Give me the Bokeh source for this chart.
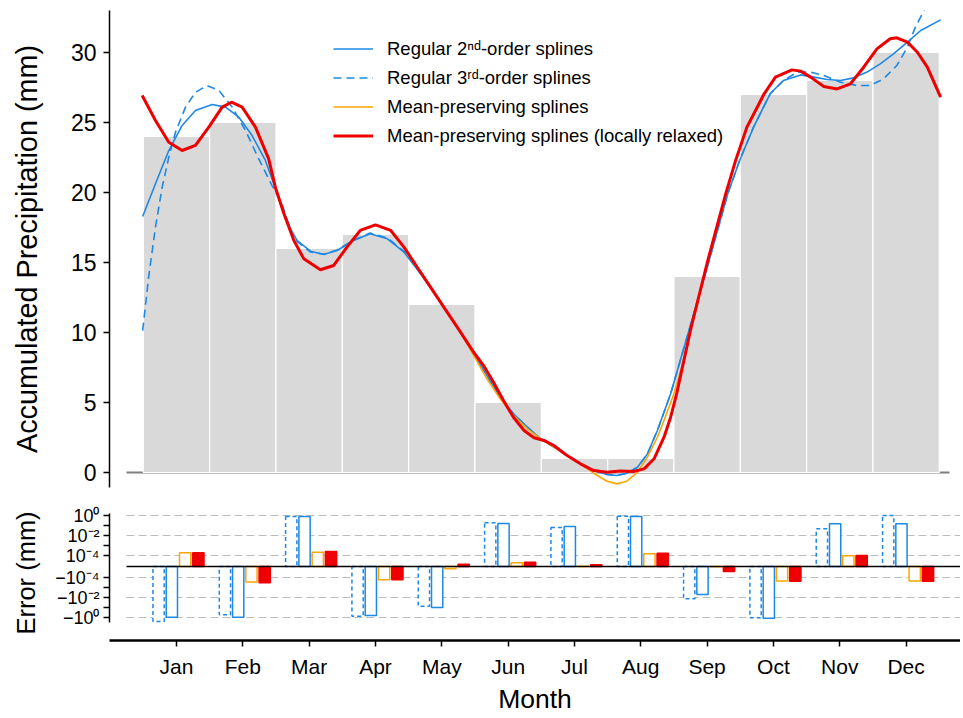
from bokeh.plotting import figure
from bokeh.models import (Range1d, FixedTicker, Legend, LegendItem, ColumnDataSource,
                          CustomJSTransform, Grid)
from bokeh.transform import transform, dodge
from bokeh.layouts import column
from bokeh.embed import file_html
from bokeh.resources import INLINE

# ---------------- data ----------------
months = ["Jan", "Feb", "Mar", "Apr", "May", "Jun", "Jul", "Aug", "Sep", "Oct", "Nov", "Dec"]
precip = [24, 25, 16, 17, 12, 5, 1, 1, 14, 27, 28, 30]

# Regular 2nd-order splines (month position, mm)
reg2_x = [0.49, 0.683, 0.884, 1.085, 1.286, 1.538, 1.739, 1.94, 2.14, 2.34, 2.47, 2.6, 2.72, 2.82,
          3.02, 3.22, 3.42, 3.67, 3.92, 4.18, 4.43, 4.68, 4.93, 5.23, 5.48, 5.68, 5.88, 6.08,
          6.29, 6.49, 6.69, 6.89, 7.09, 7.29, 7.49, 7.64, 7.79, 7.95, 8.1, 8.25, 8.45, 8.74,
          9.03, 9.31, 9.49, 9.70, 9.95, 10.15, 10.41, 10.61, 10.81, 11.01, 11.21, 11.41, 11.61,
          11.81, 12.02, 12.22, 12.52]
reg2_y = [18.29, 20.62, 23.0, 24.79, 25.86, 26.29, 26.1, 25.38, 24.07, 22.29, 20.6, 18.8, 17.4,
          16.57, 15.81, 15.57, 15.86, 16.57, 17.05, 16.69, 15.74, 14.19, 12.52, 10.38, 8.48,
          6.93, 5.38, 4.19, 3.24, 2.41, 1.81, 1.21, 0.67, 0.14, -0.14, -0.21, -0.05, 0.38,
          1.33, 3.0, 5.62, 10.38, 15.14, 19.9, 22.29, 24.67, 27.05, 28.0, 28.4, 28.24, 28.07,
          28.0, 28.19, 28.6, 29.19, 29.9, 30.74, 31.57, 32.33]

# Regular 3rd-order splines
reg3_x = [0.49, 0.58, 0.683, 0.784, 0.884, 0.985, 1.136, 1.286, 1.463, 1.64, 1.84, 2.04, 2.24,
          2.44, 2.59, 2.72, 2.82, 3.02, 3.22, 3.42, 3.67, 3.92, 4.18, 4.43, 4.68, 4.93, 5.23,
          5.48, 5.68, 5.88, 6.08, 6.29, 6.49, 6.69, 6.89, 7.09, 7.29, 7.49, 7.64, 7.79, 7.95,
          8.1, 8.25, 8.45, 8.74, 9.03, 9.31, 9.49, 9.70, 9.95, 10.15, 10.36, 10.56, 10.76,
          11.01, 11.26, 11.46, 11.66, 11.86, 12.02, 12.14, 12.27, 12.31]
reg3_y = [10.14, 13.95, 17.52, 20.38, 22.52, 24.3, 26.1, 27.16, 27.64, 27.29, 26.1, 24.43, 22.4,
          20.5, 19.19, 17.3, 16.5, 15.75, 15.6, 15.9, 16.6, 17.1, 16.75, 15.8, 14.2, 12.5, 10.4,
          8.48, 6.93, 5.38, 4.19, 3.24, 2.41, 1.81, 1.21, 0.67, 0.14, -0.14, -0.21, -0.05, 0.38,
          1.33, 3.0, 5.62, 10.38, 15.14, 19.9, 22.29, 24.67, 27.05, 28.0, 28.6, 28.6, 28.36,
          27.88, 27.64, 27.64, 28.12, 29.07, 30.38, 31.81, 33.0, 33.6]

# Mean-preserving splines
mp_x = [0.483, 0.683, 0.884, 1.085, 1.286, 1.487, 1.689, 1.83, 1.99, 2.19, 2.39, 2.49, 2.62,
        2.77, 2.92, 3.17, 3.37, 3.57, 3.77, 4.0, 4.23, 4.43, 4.63, 4.83, 5.03, 5.26, 5.48,
        5.68, 5.88, 6.08, 6.29, 6.49, 6.69, 6.89, 7.09, 7.29, 7.49, 7.64, 7.79, 7.95, 8.1,
        8.25, 8.34, 8.5, 8.62, 8.76, 9.01, 9.28, 9.43, 9.60, 9.86, 10.03, 10.28, 10.41, 10.56,
        10.76, 10.96, 11.16, 11.36, 11.56, 11.76, 11.86, 12.02, 12.17, 12.32, 12.52]
mp_y = [26.93, 25.14, 23.59, 23.0, 23.36, 24.67, 26.1, 26.45, 26.1, 24.67, 22.4, 20.38, 18.48,
        16.57, 15.26, 14.48, 14.79, 16.1, 17.29, 17.69, 17.29, 16.1, 14.66, 13.24, 11.81,
        10.19, 8.36, 6.69, 5.26, 4.07, 3.12, 2.41, 1.81, 1.21, 0.62, -0.05, -0.62, -0.81,
        -0.62, 0.02, 1.1, 2.52, 3.6, 5.62, 7.6, 10.38, 15.14, 19.9, 22.29, 24.67, 27.05, 28.24,
        28.76, 28.67, 28.24, 27.57, 27.4, 27.76, 28.95, 30.26, 30.98, 31.05, 30.74, 30.02,
        28.95, 26.81]

# Mean-preserving splines (locally relaxed)
mpr_x = [0.483, 0.683, 0.884, 1.085, 1.286, 1.487, 1.689, 1.83, 1.99, 2.19, 2.39, 2.49, 2.62,
         2.77, 2.92, 3.17, 3.37, 3.57, 3.77, 4.0, 4.23, 4.43, 4.63, 4.83, 5.03, 5.26, 5.48,
         5.63, 5.78, 5.93, 6.08, 6.24, 6.39, 6.54, 6.69, 6.89, 7.09, 7.29, 7.49, 7.69, 7.89,
         8.05, 8.2, 8.35, 8.45, 8.54, 8.76, 9.01, 9.28, 9.43, 9.60, 9.86, 10.03, 10.28, 10.41,
         10.56, 10.76, 10.96, 11.16, 11.36, 11.56, 11.76, 11.86, 12.02, 12.17, 12.32, 12.52]
mpr_y = [26.93, 25.14, 23.59, 23.0, 23.36, 24.67, 26.1, 26.45, 26.1, 24.67, 22.4, 20.38, 18.48,
         16.57, 15.26, 14.48, 14.79, 16.1, 17.29, 17.69, 17.29, 16.1, 14.66, 13.24, 11.81,
         10.19, 8.59, 7.64, 6.45, 5.14, 3.95, 3.0, 2.48, 2.29, 1.93, 1.21, 0.62, 0.14, 0.02,
         0.1, 0.07, 0.26, 0.98, 2.52, 3.95, 5.62, 10.38, 15.14, 19.9, 22.29, 24.67, 27.05,
         28.24, 28.76, 28.67, 28.24, 27.57, 27.4, 27.76, 28.95, 30.26, 30.98, 31.05, 30.74,
         30.02, 28.95, 26.81]

# Monthly errors (mm)
err_reg3 = [-2.5, -0.54, 0.79, -0.74, -0.074, 0.19, 0.063, 0.85, -0.0135, -1.07, 0.047, 1.0]
err_reg2 = [-0.93, -0.93, 0.79, -0.63, -0.1, 0.16, 0.079, 0.79, -0.005, -1.17, 0.15, 0.15]
err_mp = [1.9e-4, -2.9e-4, 2.1e-4, -1.7e-4, -2e-5, 3.4e-5, 3e-6, 1.5e-4, -3e-6, -2.3e-4, 0.97e-4, -2.3e-4]
err_mpr = [1.9e-4, -3.4e-4, 2.5e-4, -1.7e-4, 2e-5, 3.9e-5, 1.5e-5, 1.7e-4, -4.5e-5, -2.4e-4, 1.0e-4, -2.4e-4]

err_ticks = [-5.1, -3.1, -1.1, 1.1, 3.1, 5.1]
err_minor = [-4.1, -2.1, 2.1, 4.1]
err_labels = ["\u221210\u2070", "\u221210\u207b\u00b2", "\u221210\u207b\u2074",
              "10\u207b\u2074", "10\u207b\u00b2", "10\u2070"]

# ---------------- style ----------------
FONT = "Liberation Sans"
BLUE = "#1E88E5"
ORANGE = "#FFA500"
RED = "#EE0000"
GRAY = "#D9D9D9"

pos = list(range(1, len(months) + 1))
xr = Range1d(-0.01, 12.82)

# ---------------- top panel ----------------
p1 = figure(width=960, height=505, x_range=xr, y_range=Range1d(-1.07, 33.0),
            output_backend="svg", toolbar_location=None, x_axis_location=None,
            min_border_left=109, min_border_right=0, min_border_top=10, min_border_bottom=18)
p1.outline_line_color = None
p1.xgrid.visible = False
p1.ygrid.visible = False

base = Grid(dimension=1, ticker=FixedTicker(ticks=[0]), grid_line_color="#808080",
            grid_line_width=2, cross_bounds=(0.25, 12.66))
p1.add_layout(base, "center")

src_bar = ColumnDataSource(dict(x=pos, precip=precip))
p1.vbar(x="x", top="precip", bottom=0, width=1.0, source=src_bar,
        fill_color=GRAY, line_color="white", line_width=1.2)

r2 = p1.line(reg2_x, reg2_y, line_color=BLUE, line_width=1.6)
r3 = p1.line(reg3_x, reg3_y, line_color=BLUE, line_width=1.6, line_dash="8 5")
rmp = p1.line(mp_x, mp_y, line_color=ORANGE, line_width=1.6)
rmpr = p1.line(mpr_x, mpr_y, line_color=RED, line_width=3)

ay = p1.yaxis[0]
ay.ticker = FixedTicker(ticks=[0, 5, 10, 15, 20, 25, 30])
ay.axis_label = "Accumulated Precipitation (mm)"
ay.axis_label_text_font = FONT
ay.axis_label_text_font_size = "28.8px"
ay.axis_label_text_font_style = "normal"
ay.axis_label_text_color = "black"
ay.axis_label_standoff = 25
ay.major_label_text_font = FONT
ay.major_label_text_font_size = "23px"
ay.major_label_text_color = "black"
ay.major_label_standoff = 7
ay.axis_line_width = 1.5
ay.major_tick_line_width = 1.5
ay.major_tick_out = 6
ay.major_tick_in = 0
ay.minor_tick_out = 0
ay.minor_tick_in = 0

legend = Legend(items=[
    LegendItem(label="Regular 2\u207f\u1d48-order splines", renderers=[r2]),
    LegendItem(label="Regular 3\u02b3\u1d48-order splines", renderers=[r3]),
    LegendItem(label="Mean-preserving splines", renderers=[rmp]),
    LegendItem(label="Mean-preserving splines (locally relaxed)", renderers=[rmpr]),
], location=(224, 340), glyph_width=40, glyph_height=23, label_height=23,
    label_standoff=14, spacing=6, padding=0, margin=0, border_line_color=None,
    background_fill_alpha=0, label_text_font=FONT, label_text_font_size="18.5px",
    label_text_color="black")
p1.add_layout(legend, "center")

# ---------------- bottom panel ----------------
p2 = figure(width=960, height=213, x_range=xr, y_range=Range1d(-7.4, 6.1),
            output_backend="svg", toolbar_location=None,
            min_border_left=109, min_border_right=0, min_border_top=0, min_border_bottom=78)
p2.outline_line_color = None
p2.xgrid.visible = False
p2.ygrid.ticker = FixedTicker(ticks=err_ticks)
p2.ygrid.grid_line_color = "#BDBDBD"
p2.ygrid.grid_line_dash = "8 4"
p2.ygrid.grid_line_width = 1.2
p2.ygrid.cross_bounds = (0.25, 12.82)

zero = Grid(dimension=1, ticker=FixedTicker(ticks=[0]), grid_line_color="black",
            grid_line_width=1.5, cross_bounds=(0.25, 12.82), level="overlay")
p2.add_layout(zero, "center")

symlog = CustomJSTransform(
    func="""
const a = Math.abs(x);
return a >= 1e-4 ? Math.sign(x) * (Math.log10(a / 1e-4) + 1.1) : x / 1e-4 * 1.1;
""",
    v_func="""
const out = new Array(xs.length);
for (let i = 0; i < xs.length; i++) {
  const v = xs[i];
  const a = Math.abs(v);
  out[i] = a >= 1e-4 ? Math.sign(v) * (Math.log10(a / 1e-4) + 1.1) : v / 1e-4 * 1.1;
}
return out;
""")

src_err = ColumnDataSource(dict(x=pos, reg3=err_reg3, reg2=err_reg2, mp=err_mp, mpr=err_mpr))
BW = 0.17
p2.vbar(x=dodge("x", -0.27), top=transform("reg3", symlog), bottom=0, width=BW, source=src_err,
        fill_color="white", line_color=BLUE, line_width=1.5, line_dash="4 3")
p2.vbar(x=dodge("x", -0.07), top=transform("reg2", symlog), bottom=0, width=BW, source=src_err,
        fill_color="white", line_color=BLUE, line_width=1.5)
p2.vbar(x=dodge("x", 0.13), top=transform("mp", symlog), bottom=0, width=BW, source=src_err,
        fill_color="white", line_color=ORANGE, line_width=1.5)
p2.vbar(x=dodge("x", 0.33), top=transform("mpr", symlog), bottom=0, width=BW, source=src_err,
        fill_color=RED, line_color=RED, line_width=1.5)

ey = p2.yaxis[0]
ey.ticker = FixedTicker(ticks=err_ticks, minor_ticks=err_minor)
ey.major_label_overrides = dict(zip(err_ticks, err_labels))
ey.bounds = (-5.6, 5.3)
ey.axis_label = "Error (mm)"
ey.axis_label_text_font = FONT
ey.axis_label_text_font_size = "25.5px"
ey.axis_label_text_font_style = "normal"
ey.axis_label_text_color = "black"
ey.axis_label_standoff = 12
ey.major_label_text_font = FONT
ey.major_label_text_font_size = "18px"
ey.major_label_text_color = "black"
ey.major_label_standoff = 4
ey.axis_line_width = 1.5
ey.major_tick_line_width = 1.5
ey.minor_tick_line_width = 1.5
ey.major_tick_out = 6
ey.major_tick_in = 0
ey.minor_tick_out = 6
ey.minor_tick_in = 0

ex = p2.xaxis[0]
ex.ticker = FixedTicker(ticks=pos)
ex.major_label_overrides = dict(zip(pos, months))
ex.axis_label = "Month"
ex.axis_label_text_font = FONT
ex.axis_label_text_font_size = "26.5px"
ex.axis_label_text_font_style = "normal"
ex.axis_label_text_color = "black"
ex.axis_label_standoff = 3
ex.major_label_text_font = FONT
ex.major_label_text_font_size = "21px"
ex.major_label_text_color = "black"
ex.major_label_standoff = 8
ex.axis_line_width = 2.5
ex.major_tick_line_width = 1.5
ex.major_tick_out = 6
ex.major_tick_in = 0
ex.minor_tick_out = 0
ex.minor_tick_in = 0

layout = column(p1, p2, spacing=0)
open("out.html", "w").write(file_html(layout, INLINE))
